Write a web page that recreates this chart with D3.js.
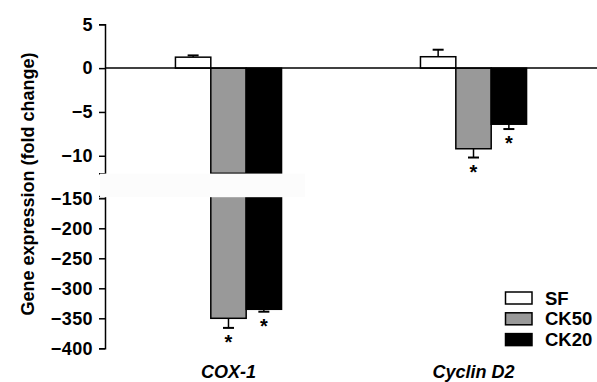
<!DOCTYPE html>
<html>
<head>
<meta charset="utf-8">
<script src="https://cdn.jsdelivr.net/npm/d3@7"></script>
<style>
body { margin: 0; background: #fff; }
text { font-family: "Liberation Sans", Arial, sans-serif; font-weight: bold; fill: #000; }
</style>
</head>
<body>
<svg width="597" height="382"></svg>
<script>
var genes = ["COX-1", "Cyclin D2"];
var groups = ["SF", "CK50", "CK20"];
var sfValues = [1.25, 1.3];
var sfErrors = [0.2, 0.8];
var ck50Values = [-350, -9.2];
var ck50Errors = [16, 1.0];
var ck20Values = [-335, -6.4];
var ck20Errors = [4, 0.55];
var significant = [[false, true, true], [false, true, true]];
var topTicks = [5, 0, -5, -10];
var bottomTicks = [-150, -200, -250, -300, -350, -400];

var fills = {SF: "#ffffff", CK50: "#999999", CK20: "#000000"};
var values = {SF: sfValues, CK50: ck50Values, CK20: ck20Values};
var errors = {SF: sfErrors, CK50: ck50Errors, CK20: ck20Errors};

var svg = d3.select("svg");

var axisX = 105;
var breakTop = -12, breakBottom = -146;

var x0 = d3.scaleBand().domain(genes).range([axisX, 597]).paddingInner(0.567).paddingOuter(0.2875),
    x1 = d3.scaleBand().domain(groups).range([0, x0.bandwidth()]);

var yTop = d3.scaleLinear().domain([5, breakTop]).range([24.3, 173.3]),
    yBot = d3.scaleLinear().domain([breakBottom, -400]).range([195.9, 348.3]);

function y(v) { return v >= breakTop ? yTop(v) : yBot(v); }

// y axes (two segments)
svg.append("g")
    .attr("class", "axis")
    .attr("transform", "translate(" + axisX + ",0)")
    .call(d3.axisLeft(yTop).tickValues(topTicks).tickSize(6).tickPadding(6).tickFormat(d3.format("d")));
svg.append("g")
    .attr("class", "axis")
    .attr("transform", "translate(" + axisX + ",0)")
    .call(d3.axisLeft(yBot).tickValues(bottomTicks).tickSize(6).tickPadding(6).tickFormat(d3.format("d")));

svg.selectAll(".axis path.domain").attr("stroke", "#000").attr("stroke-width", 1.5);
svg.selectAll(".axis line").attr("stroke", "#000").attr("stroke-width", 1.5);
svg.selectAll(".axis text")
    .style("font-size", "18px")
    .style("letter-spacing", "0.4px")
    .attr("fill", "#000");

// bars
var bars = [];
genes.forEach(function(gene, i) {
  groups.forEach(function(grp, j) {
    bars.push({gene: gene, group: grp, value: values[grp][i], err: errors[grp][i], star: significant[i][j]});
  });
});

var bar = svg.selectAll(".bar")
  .data(bars)
  .enter().append("g")
    .attr("class", "bar")
    .attr("transform", function(d) { return "translate(" + (x0(d.gene) + x1(d.group)) + ",0)"; });

// error bars drawn first so bar outline sits over the stem
bar.each(function(d) {
  var g = d3.select(this), w = x1.bandwidth();
  var end = d.value >= 0 ? d.value + d.err : d.value - d.err;
  g.append("line")
      .attr("x1", w / 2).attr("x2", w / 2)
      .attr("y1", y(d.value)).attr("y2", y(end))
      .attr("stroke", "#000").attr("stroke-width", 1.5);
  g.append("line")
      .attr("x1", w / 2 - 5.5).attr("x2", w / 2 + 5.5)
      .attr("y1", y(end)).attr("y2", y(end))
      .attr("stroke", "#000").attr("stroke-width", 2);
  if (d.star) {
    g.append("text")
        .attr("x", w / 2)
        .attr("y", y(end) + 21)
        .attr("text-anchor", "middle")
        .style("font-size", "20px")
        .text("*");
  }
});

bar.each(function(d) {
  var g = d3.select(this), w = x1.bandwidth();
  if (d.value >= 0) {
    g.append("rect").attr("y", yTop(d.value)).attr("height", yTop(0) - yTop(d.value));
  } else {
    g.append("rect").attr("y", yTop(0)).attr("height", yTop(Math.max(d.value, breakTop)) - yTop(0));
    if (d.value < breakTop) {
      g.append("rect").attr("y", yBot(breakBottom)).attr("height", yBot(d.value) - yBot(breakBottom));
    }
  }
  g.selectAll("rect")
      .attr("x", 0).attr("width", w)
      .attr("fill", fills[d.group])
      .attr("stroke", "#000").attr("stroke-width", 1.5);
});

// zero line
svg.append("line")
    .attr("x1", axisX).attr("x2", 597)
    .attr("y1", yTop(0)).attr("y2", yTop(0))
    .attr("stroke", "#000").attr("stroke-width", 1.5);

// axis break mask
svg.append("rect")
    .attr("x", 100).attr("width", 205)
    .attr("y", yTop(breakTop) + 0.3).attr("height", yBot(breakBottom) - yTop(breakTop) + 1)
    .attr("fill", "#fcfcfc");

// gene labels
svg.selectAll(".gene")
  .data(genes)
  .enter().append("text")
    .attr("class", "gene")
    .attr("x", function(d) { return x0(d) + x0.bandwidth() / 2; })
    .attr("y", 378)
    .attr("text-anchor", "middle")
    .style("font-size", "18px")
    .style("font-style", "italic")
    .text(function(d) { return d; });

// y title
svg.append("text")
    .attr("transform", "rotate(-90)")
    .attr("x", -184)
    .attr("y", 34)
    .attr("text-anchor", "middle")
    .style("font-size", "18px")
    .text("Gene expression (fold change)");

// legend
var legend = svg.selectAll(".legend")
  .data(groups)
  .enter().append("g")
    .attr("class", "legend")
    .attr("transform", function(d, i) { return "translate(505.5," + (292 + i * 20.8) + ")"; });

legend.append("rect")
    .attr("width", 26.5).attr("height", 12)
    .attr("fill", function(d) { return fills[d]; })
    .attr("stroke", "#000").attr("stroke-width", 1.5);

legend.append("text")
    .attr("x", 39.5)
    .attr("y", 6)
    .attr("dy", "0.36em")
    .style("font-size", "18.5px")
    .text(function(d) { return d; });
</script>
</body>
</html>
